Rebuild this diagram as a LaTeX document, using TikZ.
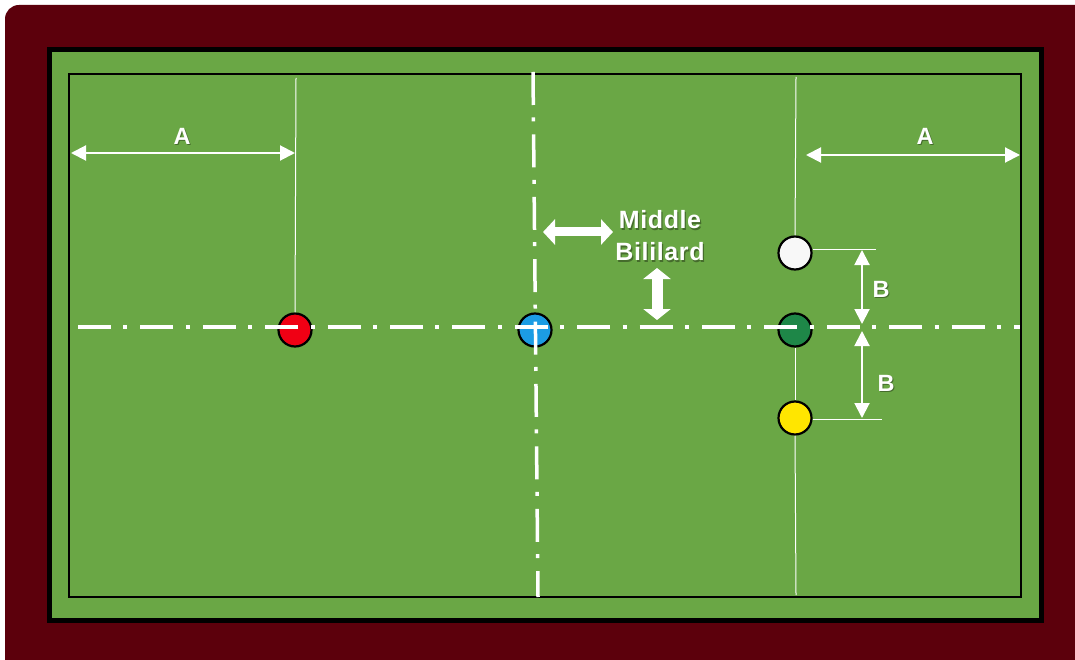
\documentclass[tikz,border=0pt]{standalone}
\usepackage{fontspec}
\setmainfont{Liberation Sans}
\usetikzlibrary{arrows.meta}
\definecolor{maroon}{RGB}{92,0,12}
\definecolor{felt}{RGB}{106,167,69}
\definecolor{bred}{RGB}{240,0,20}
\definecolor{bblue}{RGB}{28,156,228}
\definecolor{bgreen}{RGB}{30,135,72}
\definecolor{byellow}{RGB}{255,230,0}
\definecolor{bwhite}{RGB}{248,248,248}
\tikzset{
  ball/.style={circle,draw=black,line width=2.2pt,minimum size=33pt,inner sep=0pt},
  guide/.style={draw=white,line width=1pt},
  centreline/.style={draw=white,line width=3.5pt,dash pattern=on 33pt off 12.4pt on 4pt off 13pt},
  dimarrow/.style={draw=white,line width=2pt,{Triangle[width=15pt,length=15pt]}-{Triangle[width=15pt,length=15pt]}},
  bigarrowh/.style={draw=white,line width=9pt,{Triangle[width=25pt,length=12pt]}-{Triangle[width=25pt,length=12pt]}},
  bigarrowv/.style={draw=white,line width=11pt,{Triangle[width=27pt,length=11pt]}-{Triangle[width=27pt,length=11pt]}},
  lbl/.style={text=white,font=\bfseries\fontsize{23.5}{24}\selectfont,inner sep=0pt},
  shad/.style={text=black,opacity=0.35,font=\bfseries\fontsize{23.5}{24}\selectfont,inner sep=0pt},
  midfont/.style={align=center,font=\bfseries\fontsize{25}{32}\selectfont\addfontfeature{LetterSpace=2.5}},
}
\begin{document}
\begin{tikzpicture}[x=1pt,y=-1pt]
\useasboundingbox (0,0) rectangle (1075,660);
\fill[white] (0,0) rectangle (1075,660);
\fill[maroon,rounded corners=14pt] (5,5) rectangle (1110,700);
% cushion
\draw[fill=felt,line width=5pt] (49,50) rectangle (1041,620);
% playing area
\draw[line width=2pt] (69,74) rectangle (1021,597);
% coordinates
\coordinate (hl) at (78,327);
\coordinate (hr) at (1020,327);
\coordinate (vt) at (533,72);
\coordinate (vb) at (538,597);
% balls
\node[ball,fill=bred] (red) at (295,330) {};
\node[ball,fill=bblue] (blue) at (535,330) {};
\node[ball,fill=bgreen] (green) at (795,330) {};
\node[ball,fill=bwhite] (wht) at (795,253) {};
\node[ball,fill=byellow] (yel) at (795,418) {};
% centre lines
\draw[centreline] (hl) -- (hr);
\draw[centreline] (vt) -- (vb);
% guide lines
\coordinate (rt) at (296,78);
\coordinate (wt) at (796,77);
\coordinate (yb) at (796,595);
\draw[guide] (red.north) -- (rt);
\draw[guide] (wht.north) -- (wt);
\draw[guide] (green.south) -- (yel.north);
\draw[guide] (yel.south) -- (yb);
\coordinate (we) at (876,249);
\coordinate (ye) at (882,419);
\draw[guide] (wht.east) ++(0,-4) -- (we);
\draw[guide] (yel.east) ++(0,1) -- (ye);
% A arrows
\coordinate (a1l) at (71,153);
\coordinate (a1r) at (295,153);
\coordinate (a2l) at (806,155);
\coordinate (a2r) at (1020,155);
\draw[dimarrow] (a1l) -- (a1r);
\draw[dimarrow] (a2l) -- (a2r);
\node[shad] (sa1) at (183.2,137.8) {A};
\node[shad] (sa2) at (926.2,137.8) {A};
\node[lbl] (la1) at (182,136.5) {A};
\node[lbl] (la2) at (925,136.5) {A};
% B arrows
\coordinate (b1t) at (862,250);
\coordinate (b1b) at (862,324);
\coordinate (b2t) at (862,331);
\coordinate (b2b) at (862,418);
\draw[dimarrow] (b1t) -- (b1b);
\draw[dimarrow] (b2t) -- (b2b);
\node[shad] (sb1) at (882.2,290.3) {B};
\node[shad] (sb2) at (887.2,384.3) {B};
\node[lbl] (lb1) at (881,289) {B};
\node[lbl] (lb2) at (886,383) {B};
% middle arrows
\coordinate (m1l) at (543,232);
\coordinate (m1r) at (613,232);
\coordinate (m2t) at (657,268);
\coordinate (m2b) at (657,320);
\draw[bigarrowh] (m1l) -- (m1r);
\draw[bigarrowv] (m2t) -- (m2b);
\node[shad,midfont] (smid) at (661.2,237.3) {Middle\\Bililard};
\node[lbl,midfont] (mid) at (660,236) {Middle\\Bililard};
\end{tikzpicture}
\end{document}
